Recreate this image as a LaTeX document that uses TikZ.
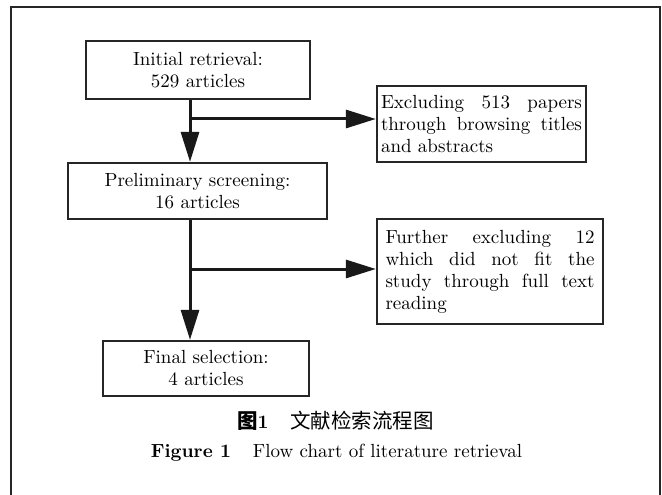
\documentclass[tikz,border=0pt]{standalone}
\usepackage{fontspec}
\setmainfont{lmroman10-regular.otf}[BoldFont=lmroman10-bold.otf]
\newfontfamily\cjk{Noto Sans CJK SC}
\usetikzlibrary{arrows.meta}
\hyphenpenalty=10000
\tolerance=10000
\hbadness=10000
\begin{document}
\begin{tikzpicture}[x=1pt,y=-1pt,
  box/.style={draw=black!85, line width=2.3pt, inner sep=0pt,
    font=\fontsize{19}{22}\selectfont, align=center},
  jbox/.style={box, align=justify},
  arr/.style={draw=black!90, line width=3pt, -{Triangle[length=30pt,width=18pt]}},
  frameline/.style={draw=black!85, line width=2.3pt},
  captext/.style={inner sep=0pt, font=\fontsize{19}{22}\selectfont}
]
\useasboundingbox (0,0) rectangle (662,495);
\draw[frameline] (11,500) -- (11,7) -- (660,7) -- (660,500);

\node[box, minimum width=224pt, minimum height=58pt] (b1) at (198,70)
  {Initial retrieval:\\529 articles};
\node[jbox, minimum width=209pt, minimum height=76pt, text width=201pt] (b2) at (481.5,124)
  {Excluding 513 papers through browsing titles and abstracts};
\node[box, minimum width=259pt, minimum height=56pt] (b3) at (197.5,191)
  {Preliminary screening:\\16 articles};
\node[jbox, minimum width=226pt, minimum height=105pt, text width=209pt] (b4) at (490,271.5)
  {Further excluding 12 which did not fit the study through full text reading};
\node[box, minimum width=206pt, minimum height=55pt] (b5) at (206,368.5)
  {Final selection:\\4 articles};

\coordinate (s1) at (190,119);
\coordinate (s2) at (190,269);
\draw[arr] (b1.south -| s1) -- (b3.north -| s1);
\draw[arr] (s1) -- (s1 -| b2.west);
\draw[arr] (b3.south -| s2) -- (b5.north -| s2);
\draw[arr] (s2) -- (s2 -| b4.west);

\node[captext] (c1) at (335.5,421) {{\cjk\fontsize{20.5}{22}\selectfont\bfseries 图}\textbf{1}\hspace{22pt}{\cjk\fontsize{20.5}{22}\selectfont 文献检索流程图}};
\node[captext] (c2) at (336.5,453) {\textbf{Figure 1}\hspace{22pt}Flow chart of literature retrieval};
\end{tikzpicture}
\end{document}
